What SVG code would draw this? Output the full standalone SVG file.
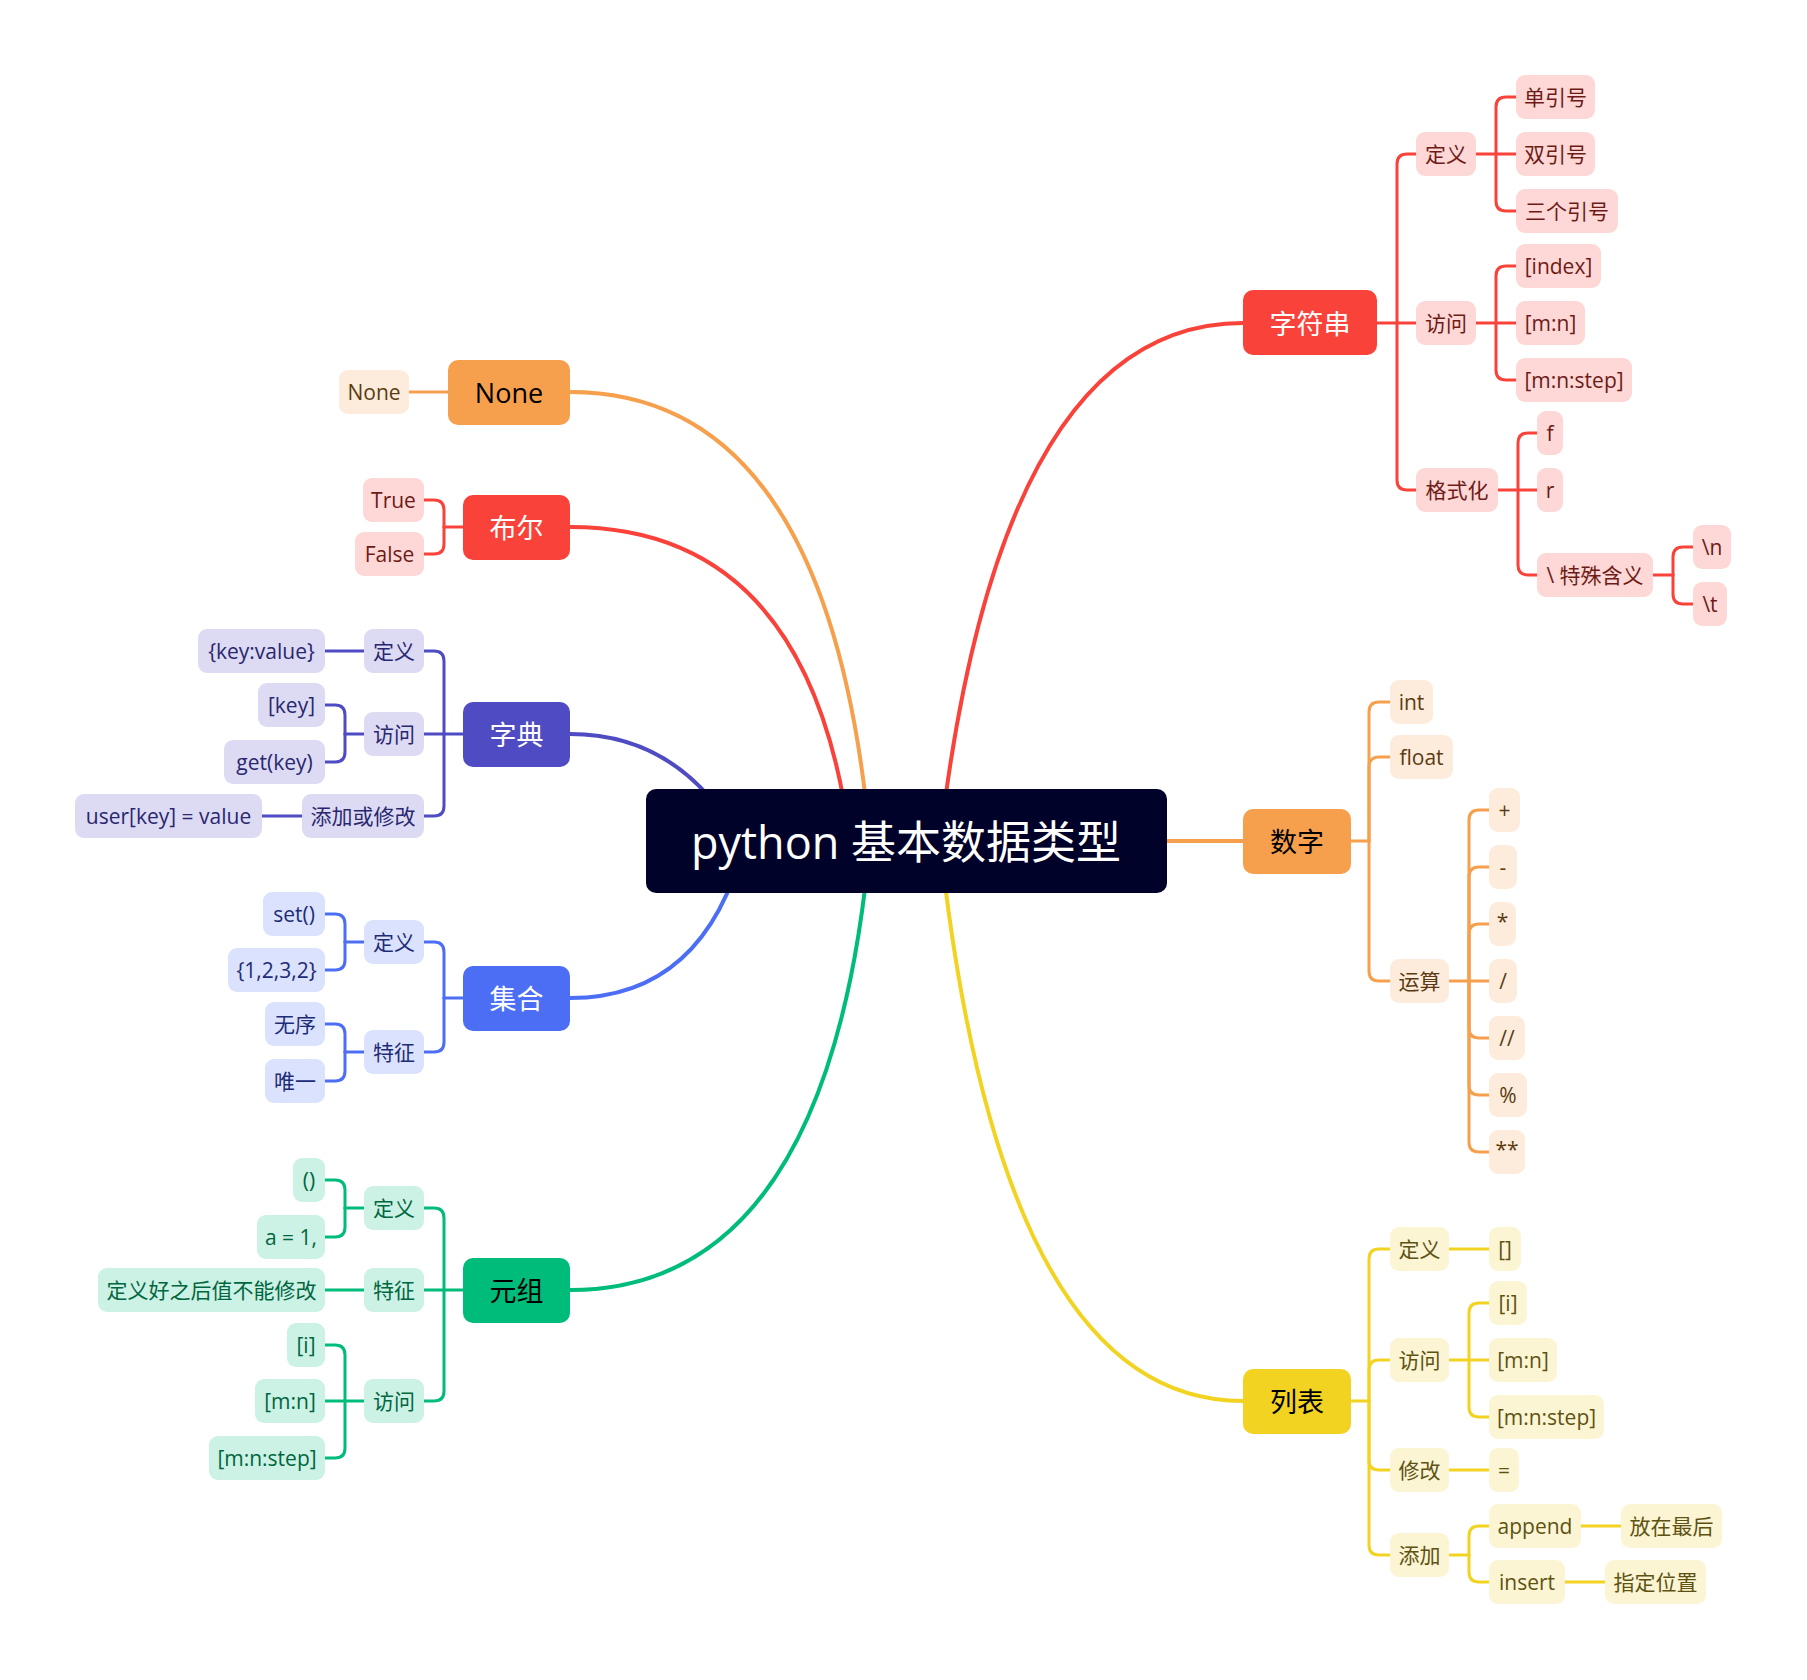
<svg xmlns="http://www.w3.org/2000/svg" width="1807" height="1680" viewBox="0 0 1807 1680">
<style>
text{font-family:"Open Sans","Noto Sans CJK SC",sans-serif;text-anchor:middle;dominant-baseline:central}
.c{fill:none;stroke-linecap:round;stroke-linejoin:round}
.m{stroke-width:4}
.s{stroke-width:3}
.t{font-size:21px}
.mt{font-size:27px}
.red{stroke:#F9423A}.ora{stroke:#F6A04D}.yel{stroke:#F2D322}.ind{stroke:#4F4BC3}.blu{stroke:#4C6EF5}.grn{stroke:#00BC7B}
.rF{fill:#F9423A}.oF{fill:#F6A04D}.yF{fill:#F2D322}.iF{fill:#4F4BC3}.bF{fill:#4C6EF5}.gF{fill:#00BC7B}
.rS{fill:#FDD8D7}.oS{fill:#FDECDB}.yS{fill:#FCF5D3}.iS{fill:#DCDBF3}.bS{fill:#DBE2FD}.gS{fill:#CCF2E5}
.rT{fill:#6E1A16}.oT{fill:#5C3A12}.yT{fill:#5E5213}.iT{fill:#2A2770}.bT{fill:#1E2C78}.gT{fill:#00663F}
.w{fill:#FFFFFF}.k{fill:#000000}
</style>
<g id="connectors">
<path class="c m red" d="M940 841 Q1000 323 1243 323"/>
<path class="c m yel" d="M940 841 Q1000 1401 1243 1401"/>
<path class="c m ora" d="M1100 841 H1243"/>
<path class="c m ora" d="M870 841 Q830 392 570 392"/>
<path class="c m red" d="M850 841 Q810 527 570 527"/>
<path class="c m ind" d="M740 841 Q680 734 570 734"/>
<path class="c m blu" d="M745 841 Q705 998 570 998"/>
<path class="c m grn" d="M870 841 Q830 1290 570 1290"/>
<g class="c s red">
<path d="M1377 323 H1416"/>
<path d="M1397 323 V164 Q1397 154 1407 154 H1416"/>
<path d="M1397 323 V480 Q1397 490 1407 490 H1416"/>
<path d="M1476 154 H1516"/>
<path d="M1496 154 V107 Q1496 97 1506 97 H1516"/>
<path d="M1496 154 V201 Q1496 211 1506 211 H1516"/>
<path d="M1476 323 H1516"/>
<path d="M1496 323 V276 Q1496 266 1506 266 H1516"/>
<path d="M1496 323 V370 Q1496 380 1506 380 H1516"/>
<path d="M1498 490 H1537"/>
<path d="M1518 490 V443 Q1518 433 1528 433 H1537"/>
<path d="M1518 490 V565 Q1518 575 1528 575 H1537"/>
<path d="M1653 575 H1673"/>
<path d="M1673 575 V557 Q1673 547 1683 547 H1693"/>
<path d="M1673 575 V594 Q1673 604 1683 604 H1693"/>
<path d="M463 527 H444"/>
<path d="M444 527 V510 Q444 500 434 500 H424"/>
<path d="M444 527 V544 Q444 554 434 554 H424"/>
</g>
<g class="c s ora">
<path d="M1351 841 H1369"/>
<path d="M1369 841 V712 Q1369 702 1379 702 H1390"/>
<path d="M1369 841 V767 Q1369 757 1379 757 H1390"/>
<path d="M1369 841 V971 Q1369 981 1379 981 H1390"/>
<path d="M1449 981 H1489"/>
<path d="M1469 981 V820 Q1469 810 1479 810 H1489"/>
<path d="M1469 981 V877 Q1469 867 1479 867 H1489"/>
<path d="M1469 981 V934 Q1469 924 1479 924 H1489"/>
<path d="M1469 981 V1028 Q1469 1038 1479 1038 H1489"/>
<path d="M1469 981 V1085 Q1469 1095 1479 1095 H1489"/>
<path d="M1469 981 V1142 Q1469 1152 1479 1152 H1489"/>
<path d="M409 392 H448"/>
</g>
<g class="c s yel">
<path d="M1351 1401 H1369"/>
<path d="M1369 1401 V1259 Q1369 1249 1379 1249 H1390"/>
<path d="M1369 1401 V1370 Q1369 1360 1379 1360 H1390"/>
<path d="M1369 1401 V1460 Q1369 1470 1379 1470 H1390"/>
<path d="M1369 1401 V1545 Q1369 1555 1379 1555 H1390"/>
<path d="M1449 1249 H1489"/>
<path d="M1449 1360 H1489"/>
<path d="M1469 1360 V1313 Q1469 1303 1479 1303 H1489"/>
<path d="M1469 1360 V1407 Q1469 1417 1479 1417 H1489"/>
<path d="M1449 1470 H1489"/>
<path d="M1449 1555 H1469"/>
<path d="M1469 1555 V1536 Q1469 1526 1479 1526 H1489"/>
<path d="M1469 1555 V1572 Q1469 1582 1479 1582 H1489"/>
<path d="M1581 1526 H1621"/>
<path d="M1565 1582 H1605"/>
</g>
<g class="c s ind">
<path d="M463 734 H424"/>
<path d="M444 734 V661 Q444 651 434 651 H424"/>
<path d="M444 734 V806 Q444 816 434 816 H424"/>
<path d="M364 651 H325"/>
<path d="M364 734 H345"/>
<path d="M345 734 V715 Q345 705 335 705 H325"/>
<path d="M345 734 V752 Q345 762 335 762 H325"/>
<path d="M302 816 H262"/>
</g>
<g class="c s blu">
<path d="M463 998 H444"/>
<path d="M444 998 V952 Q444 942 434 942 H424"/>
<path d="M444 998 V1042 Q444 1052 434 1052 H424"/>
<path d="M364 942 H345"/>
<path d="M345 942 V924 Q345 914 335 914 H325"/>
<path d="M345 942 V960 Q345 970 335 970 H325"/>
<path d="M364 1052 H345"/>
<path d="M345 1052 V1034 Q345 1024 335 1024 H325"/>
<path d="M345 1052 V1071 Q345 1081 335 1081 H325"/>
</g>
<g class="c s grn">
<path d="M463 1290 H424"/>
<path d="M444 1290 V1218 Q444 1208 434 1208 H424"/>
<path d="M444 1290 V1391 Q444 1401 434 1401 H424"/>
<path d="M364 1208 H345"/>
<path d="M345 1208 V1190 Q345 1180 335 1180 H325"/>
<path d="M345 1208 V1227 Q345 1237 335 1237 H325"/>
<path d="M364 1290 H325"/>
<path d="M364 1401 H325"/>
<path d="M345 1401 V1355 Q345 1345 335 1345 H325"/>
<path d="M345 1401 V1448 Q345 1458 335 1458 H325"/>
</g>
</g>
<g id="central"><rect x="646" y="789" width="521" height="104" rx="10" fill="#000229"/><text x="906" y="841" font-size="45" class="w">python 基本数据类型</text></g>
<g id="n-str"><rect class="rF" x="1243" y="290" width="134" height="65" rx="10"/><text class="mt w" x="1310" y="323">字符串</text></g>
<g id="n-str-def"><rect class="rS" x="1416" y="132" width="60" height="44" rx="9"/><text class="t rT" x="1446" y="154">定义</text></g>
<g id="n-str-d1"><rect class="rS" x="1516" y="75" width="79" height="44" rx="9"/><text class="t rT" x="1555.5" y="97">单引号</text></g>
<g id="n-str-d2"><rect class="rS" x="1516" y="132" width="79" height="44" rx="9"/><text class="t rT" x="1555.5" y="154">双引号</text></g>
<g id="n-str-d3"><rect class="rS" x="1516" y="189" width="102" height="44" rx="9"/><text class="t rT" x="1567" y="211">三个引号</text></g>
<g id="n-str-acc"><rect class="rS" x="1416" y="301" width="60" height="44" rx="9"/><text class="t rT" x="1446" y="323">访问</text></g>
<g id="n-str-a1"><rect class="rS" x="1516" y="244" width="85" height="44" rx="9"/><text class="t rT" x="1558.5" y="266">[index]</text></g>
<g id="n-str-a2"><rect class="rS" x="1516" y="301" width="69" height="44" rx="9"/><text class="t rT" x="1550.5" y="323">[m:n]</text></g>
<g id="n-str-a3"><rect class="rS" x="1516" y="358" width="116" height="44" rx="9"/><text class="t rT" x="1574" y="380">[m:n:step]</text></g>
<g id="n-str-fmt"><rect class="rS" x="1416" y="468" width="82" height="44" rx="9"/><text class="t rT" x="1457" y="490">格式化</text></g>
<g id="n-str-f"><rect class="rS" x="1537" y="411" width="26" height="44" rx="9"/><text class="t rT" x="1550" y="433">f</text></g>
<g id="n-str-r"><rect class="rS" x="1537" y="468" width="26" height="44" rx="9"/><text class="t rT" x="1550" y="490">r</text></g>
<g id="n-str-esc"><rect class="rS" x="1537" y="553" width="116" height="44" rx="9"/><text class="t rT" x="1595" y="575">\ 特殊含义</text></g>
<g id="n-str-n"><rect class="rS" x="1693" y="525" width="38" height="44" rx="9"/><text class="t rT" x="1712" y="547">\n</text></g>
<g id="n-str-t"><rect class="rS" x="1693" y="582" width="34" height="44" rx="9"/><text class="t rT" x="1710" y="604">\t</text></g>
<g id="n-num"><rect class="oF" x="1243" y="809" width="108" height="65" rx="10"/><text class="mt k" x="1297" y="841">数字</text></g>
<g id="n-num-int"><rect class="oS" x="1390" y="680" width="43" height="44" rx="9"/><text class="t oT" x="1411.5" y="702">int</text></g>
<g id="n-num-float"><rect class="oS" x="1390" y="735" width="63" height="44" rx="9"/><text class="t oT" x="1421.5" y="757">float</text></g>
<g id="n-num-op"><rect class="oS" x="1390" y="959" width="59" height="44" rx="9"/><text class="t oT" x="1419.5" y="981">运算</text></g>
<g id="n-num-o1"><rect class="oS" x="1489" y="788" width="31" height="44" rx="9"/><text class="t oT" x="1504.5" y="810">+</text></g>
<g id="n-num-o2"><rect class="oS" x="1489" y="845" width="28" height="44" rx="9"/><text class="t oT" x="1503" y="867">-</text></g>
<g id="n-num-o3"><rect class="oS" x="1489" y="902" width="27" height="44" rx="9"/><text class="t oT" x="1502.5" y="921">*</text></g>
<g id="n-num-o4"><rect class="oS" x="1489" y="959" width="28" height="44" rx="9"/><text class="t oT" x="1503" y="981">/</text></g>
<g id="n-num-o5"><rect class="oS" x="1489" y="1016" width="36" height="44" rx="9"/><text class="t oT" x="1507" y="1038">//</text></g>
<g id="n-num-o6"><rect class="oS" x="1489" y="1073" width="38" height="44" rx="9"/><text class="t oT" x="1508" y="1095">%</text></g>
<g id="n-num-o7"><rect class="oS" x="1489" y="1130" width="36" height="44" rx="9"/><text class="t oT" x="1507" y="1149">**</text></g>
<g id="n-list"><rect class="yF" x="1243" y="1369" width="108" height="65" rx="10"/><text class="mt k" x="1297" y="1401">列表</text></g>
<g id="n-list-def"><rect class="yS" x="1390" y="1227" width="59" height="44" rx="9"/><text class="t yT" x="1419.5" y="1249">定义</text></g>
<g id="n-list-d1"><rect class="yS" x="1489" y="1227" width="32" height="44" rx="9"/><text class="t yT" x="1505" y="1249">[]</text></g>
<g id="n-list-acc"><rect class="yS" x="1390" y="1338" width="59" height="44" rx="9"/><text class="t yT" x="1419.5" y="1360">访问</text></g>
<g id="n-list-a1"><rect class="yS" x="1489" y="1281" width="38" height="44" rx="9"/><text class="t yT" x="1508" y="1303">[i]</text></g>
<g id="n-list-a2"><rect class="yS" x="1489" y="1338" width="68" height="44" rx="9"/><text class="t yT" x="1523" y="1360">[m:n]</text></g>
<g id="n-list-a3"><rect class="yS" x="1489" y="1395" width="115" height="44" rx="9"/><text class="t yT" x="1546.5" y="1417">[m:n:step]</text></g>
<g id="n-list-mod"><rect class="yS" x="1390" y="1448" width="59" height="44" rx="9"/><text class="t yT" x="1419.5" y="1470">修改</text></g>
<g id="n-list-m1"><rect class="yS" x="1489" y="1448" width="30" height="44" rx="9"/><text class="t yT" x="1504" y="1470">=</text></g>
<g id="n-list-add"><rect class="yS" x="1390" y="1533" width="59" height="44" rx="9"/><text class="t yT" x="1419.5" y="1555">添加</text></g>
<g id="n-list-append"><rect class="yS" x="1489" y="1504" width="92" height="44" rx="9"/><text class="t yT" x="1535" y="1526">append</text></g>
<g id="n-list-append-d"><rect class="yS" x="1621" y="1504" width="101" height="44" rx="9"/><text class="t yT" x="1671.5" y="1526">放在最后</text></g>
<g id="n-list-insert"><rect class="yS" x="1489" y="1560" width="76" height="44" rx="9"/><text class="t yT" x="1527" y="1582">insert</text></g>
<g id="n-list-insert-d"><rect class="yS" x="1605" y="1560" width="101" height="44" rx="9"/><text class="t yT" x="1655.5" y="1582">指定位置</text></g>
<g id="n-none"><rect class="oF" x="448" y="360" width="122" height="65" rx="10"/><text class="mt k" x="509" y="392">None</text></g>
<g id="n-none-1"><rect class="oS" x="339" y="370" width="70" height="44" rx="9"/><text class="t oT" x="374" y="392">None</text></g>
<g id="n-bool"><rect class="rF" x="463" y="495" width="107" height="65" rx="10"/><text class="mt w" x="516.5" y="527">布尔</text></g>
<g id="n-bool-t"><rect class="rS" x="363" y="478" width="61" height="44" rx="9"/><text class="t rT" x="393.5" y="500">True</text></g>
<g id="n-bool-f"><rect class="rS" x="355" y="532" width="69" height="44" rx="9"/><text class="t rT" x="389.5" y="554">False</text></g>
<g id="n-dict"><rect class="iF" x="463" y="702" width="107" height="65" rx="10"/><text class="mt w" x="516.5" y="734">字典</text></g>
<g id="n-dict-def"><rect class="iS" x="364" y="629" width="60" height="44" rx="9"/><text class="t iT" x="394" y="651">定义</text></g>
<g id="n-dict-d1"><rect class="iS" x="198" y="629" width="127" height="44" rx="9"/><text class="t iT" x="261.5" y="651">{key:value}</text></g>
<g id="n-dict-acc"><rect class="iS" x="364" y="712" width="60" height="44" rx="9"/><text class="t iT" x="394" y="734">访问</text></g>
<g id="n-dict-a1"><rect class="iS" x="258" y="683" width="67" height="44" rx="9"/><text class="t iT" x="291.5" y="705">[key]</text></g>
<g id="n-dict-a2"><rect class="iS" x="224" y="740" width="101" height="44" rx="9"/><text class="t iT" x="274.5" y="762">get(key)</text></g>
<g id="n-dict-mod"><rect class="iS" x="302" y="794" width="122" height="44" rx="9"/><text class="t iT" x="363" y="816">添加或修改</text></g>
<g id="n-dict-m1"><rect class="iS" x="75" y="794" width="187" height="44" rx="9"/><text class="t iT" x="168.5" y="816">user[key] = value</text></g>
<g id="n-set"><rect class="bF" x="463" y="966" width="107" height="65" rx="10"/><text class="mt w" x="516.5" y="998">集合</text></g>
<g id="n-set-def"><rect class="bS" x="364" y="920" width="60" height="44" rx="9"/><text class="t bT" x="394" y="942">定义</text></g>
<g id="n-set-d1"><rect class="bS" x="263" y="892" width="62" height="44" rx="9"/><text class="t bT" x="294" y="914">set()</text></g>
<g id="n-set-d2"><rect class="bS" x="228" y="948" width="97" height="44" rx="9"/><text class="t bT" x="276.5" y="970">{1,2,3,2}</text></g>
<g id="n-set-feat"><rect class="bS" x="364" y="1030" width="60" height="44" rx="9"/><text class="t bT" x="394" y="1052">特征</text></g>
<g id="n-set-f1"><rect class="bS" x="265" y="1002" width="60" height="44" rx="9"/><text class="t bT" x="295" y="1024">无序</text></g>
<g id="n-set-f2"><rect class="bS" x="265" y="1059" width="60" height="44" rx="9"/><text class="t bT" x="295" y="1081">唯一</text></g>
<g id="n-tuple"><rect class="gF" x="463" y="1258" width="107" height="65" rx="10"/><text class="mt k" x="516.5" y="1290">元组</text></g>
<g id="n-tuple-def"><rect class="gS" x="364" y="1186" width="60" height="44" rx="9"/><text class="t gT" x="394" y="1208">定义</text></g>
<g id="n-tuple-d1"><rect class="gS" x="293" y="1158" width="32" height="44" rx="9"/><text class="t gT" x="309" y="1180">()</text></g>
<g id="n-tuple-d2"><rect class="gS" x="257" y="1215" width="68" height="44" rx="9"/><text class="t gT" x="291" y="1237">a = 1,</text></g>
<g id="n-tuple-feat"><rect class="gS" x="364" y="1268" width="60" height="44" rx="9"/><text class="t gT" x="394" y="1290">特征</text></g>
<g id="n-tuple-f1"><rect class="gS" x="98" y="1268" width="227" height="44" rx="9"/><text class="t gT" x="211.5" y="1290">定义好之后值不能修改</text></g>
<g id="n-tuple-acc"><rect class="gS" x="364" y="1379" width="60" height="44" rx="9"/><text class="t gT" x="394" y="1401">访问</text></g>
<g id="n-tuple-a1"><rect class="gS" x="287" y="1323" width="38" height="44" rx="9"/><text class="t gT" x="306" y="1345">[i]</text></g>
<g id="n-tuple-a2"><rect class="gS" x="255" y="1379" width="70" height="44" rx="9"/><text class="t gT" x="290" y="1401">[m:n]</text></g>
<g id="n-tuple-a3"><rect class="gS" x="209" y="1436" width="116" height="44" rx="9"/><text class="t gT" x="267" y="1458">[m:n:step]</text></g>
</svg>
